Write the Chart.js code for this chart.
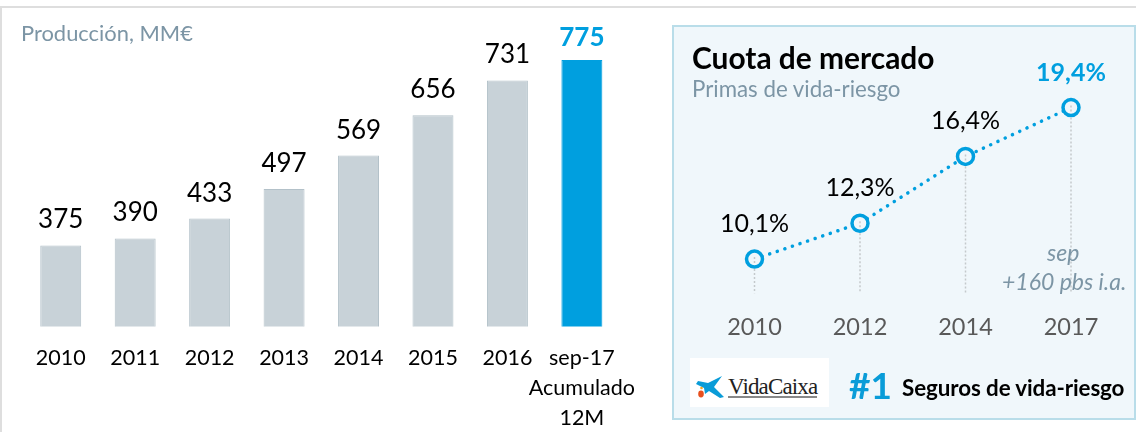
<!DOCTYPE html>
<html><head><meta charset="utf-8">
<style>
html,body{margin:0;padding:0;background:#fff;width:1136px;height:432px;overflow:hidden;font-family:Lato,"Open Sans",sans-serif}
#frameTop{position:absolute;left:0;top:6px;width:1136px;height:2px;background:#dedede}
#frameLeft{position:absolute;left:0;top:6px;width:2px;height:426px;background:#dedede}
#panel{position:absolute;left:672px;top:25px;width:460px;height:391px;background:#f0f7fb;border:2px solid #b9dde9}
canvas{position:absolute;top:0}
.t{position:absolute;white-space:nowrap;line-height:1}
</style></head><body>
<div id="frameTop"></div><div id="frameLeft"></div><div id="panel"></div>
<canvas id="c1" width="650" height="432" style="left:0;width:650px;height:432px"></canvas>
<canvas id="c2" width="464" height="432" style="left:672px;width:464px;height:432px"></canvas>
<div class="t" style="left:21px;top:22px;font-size:21.9px;color:#7c95a5">Producción, MM€</div>
<div class="t" style="left:692px;top:43px;font-size:29.9px;font-weight:700;color:#000">Cuota de mercado</div>
<div class="t" style="left:692px;top:78px;font-size:22.3px;color:#7c95a5">Primas de vida-riesgo</div>
<div class="t" style="left:1047px;top:241px;font-size:23px;font-style:italic;color:#7c95a5">sep</div>
<div class="t" style="left:1002px;top:270px;font-size:23px;font-style:italic;color:#7c95a5">+160 pbs i.a.</div>
<div style="position:absolute;left:690px;top:358px;width:139px;height:49px;background:#fff"></div>
<svg style="position:absolute;left:695px;top:375px" width="30" height="26" viewBox="0 0 30 26">
<path d="M1 9 L3 6 L13 8 L27 1 L19 12 L29 22 L25 23 L14 16 L10 19 L9 13 Z" fill="#0a9cd8"/>
<circle cx="6.5" cy="13" r="1.3" fill="#f5a623"/><ellipse cx="6" cy="19" rx="2.8" ry="3.4" fill="#e8501e"/>
</svg>
<div class="t" style="left:728px;top:375px;font-size:23px;font-family:'Liberation Serif',serif;color:#222;letter-spacing:-.85px">VidaCaixa</div>
<div style="position:absolute;left:728px;top:396px;width:89px;height:2px;background:#888"></div>
<div class="t" style="left:849px;top:366px;font-size:37px;font-weight:700;color:#0a9cd8">#1</div>
<div class="t" style="left:902px;top:377px;font-size:22.4px;font-weight:700;color:#000;letter-spacing:-.1px">Seguros de vida-riesgo</div>
<script src="https://cdn.jsdelivr.net/npm/chart.js@4"></script>
<script>
const FONT='Lato, "Open Sans", sans-serif';
const prodCategories=['2010','2011','2012','2013','2014','2015','2016',['sep-17','Acumulado','12M']];
const prodValues=[375,390,433,497,569,656,731,775];
const shareYears=['2010','2012','2014','2017'];
const shareValues=[10.1,12.3,16.4,19.4];
const shareLabels=['10,1%','12,3%','16,4%','19,4%'];
const BLUE='#009fdf', PANEL='#f0f7fb';
Chart.defaults.animation=false;
Chart.defaults.font.family=FONT;

const barLabels={id:'barLabels',afterDatasetsDraw(ch){
  const c=ch.ctx;c.save();c.textAlign='center';c.textBaseline='alphabetic';
  ch.getDatasetMeta(0).data.forEach((b,i)=>{
    const last=i===prodValues.length-1;
    c.font=(last?'700 ':'')+'26px '+FONT;c.fillStyle=last?BLUE:'#000';
    c.fillText(String(prodValues[i]),b.x,b.y-(last?14:17));
  });c.restore();}};
new Chart(document.getElementById('c1'),{type:'bar',
 data:{labels:prodCategories,datasets:[{data:prodValues,
   backgroundColor:prodValues.map((v,i)=>i===7?BLUE:'#c8d2d8'),
   borderColor:prodValues.map((v,i)=>i===7?BLUE:'#b3c1c9'),borderWidth:1,
   barPercentage:.55,categoryPercentage:1}]},
 options:{responsive:false,layout:{autoPadding:false,padding:{left:23.5,right:30.9,top:2.2,bottom:0}},
  plugins:{legend:{display:false},tooltip:{enabled:false}},
  scales:{
   x:{grid:{display:false},border:{display:false},
      afterFit(s){s.height=105.5;},
      ticks:{color:'#000',maxRotation:0,autoSkip:false,padding:9,font:{size:21.5,lineHeight:1.395}}},
   y:{display:false,min:200,max:900}}},
 plugins:[barLabels]});

const shareDeco={id:'shareDeco',
 afterDatasetsDraw(ch){
  const c=ch.ctx,bottom=ch.scales.y.getPixelForValue(8);c.save();
  ch.getDatasetMeta(0).data.forEach((p,i)=>{
    c.strokeStyle='#c4c9cc';c.lineWidth=1.5;c.setLineDash([2,2]);
    c.beginPath();c.moveTo(p.x,p.y-2);c.lineTo(p.x,p.y+5);
    c.moveTo(p.x,p.y+10);c.lineTo(p.x,bottom);c.stroke();c.setLineDash([]);
    const last=i===shareLabels.length-1;
    c.textAlign='center';c.textBaseline='alphabetic';
    c.font=(last?'700 ':'')+'25px '+FONT;c.fillStyle=last?BLUE:'#000';
    c.fillText(shareLabels[i],p.x,p.y-27);
  });c.restore();}};
new Chart(document.getElementById('c2'),{type:'line',
 data:{labels:shareYears,datasets:[{data:shareValues,borderColor:BLUE,borderWidth:3.5,
   borderDash:[0.1,7.9],borderCapStyle:'round',tension:0,fill:false,
   pointRadius:8,pointBorderWidth:3.5,pointBorderColor:BLUE,pointBackgroundColor:PANEL}]},
 options:{responsive:false,layout:{autoPadding:false,padding:{left:29.75,right:12.25,top:0,bottom:0}},
  plugins:{legend:{display:false},tooltip:{enabled:false}},
  scales:{
   x:{offset:true,grid:{display:false},border:{display:false},
      afterFit(s){s.height=432-293.3;},
      ticks:{color:'#595959',padding:12,font:{size:23.5}}},
   y:{display:false,min:8,max:26}}},
 plugins:[shareDeco]});
</script>
</body></html>
